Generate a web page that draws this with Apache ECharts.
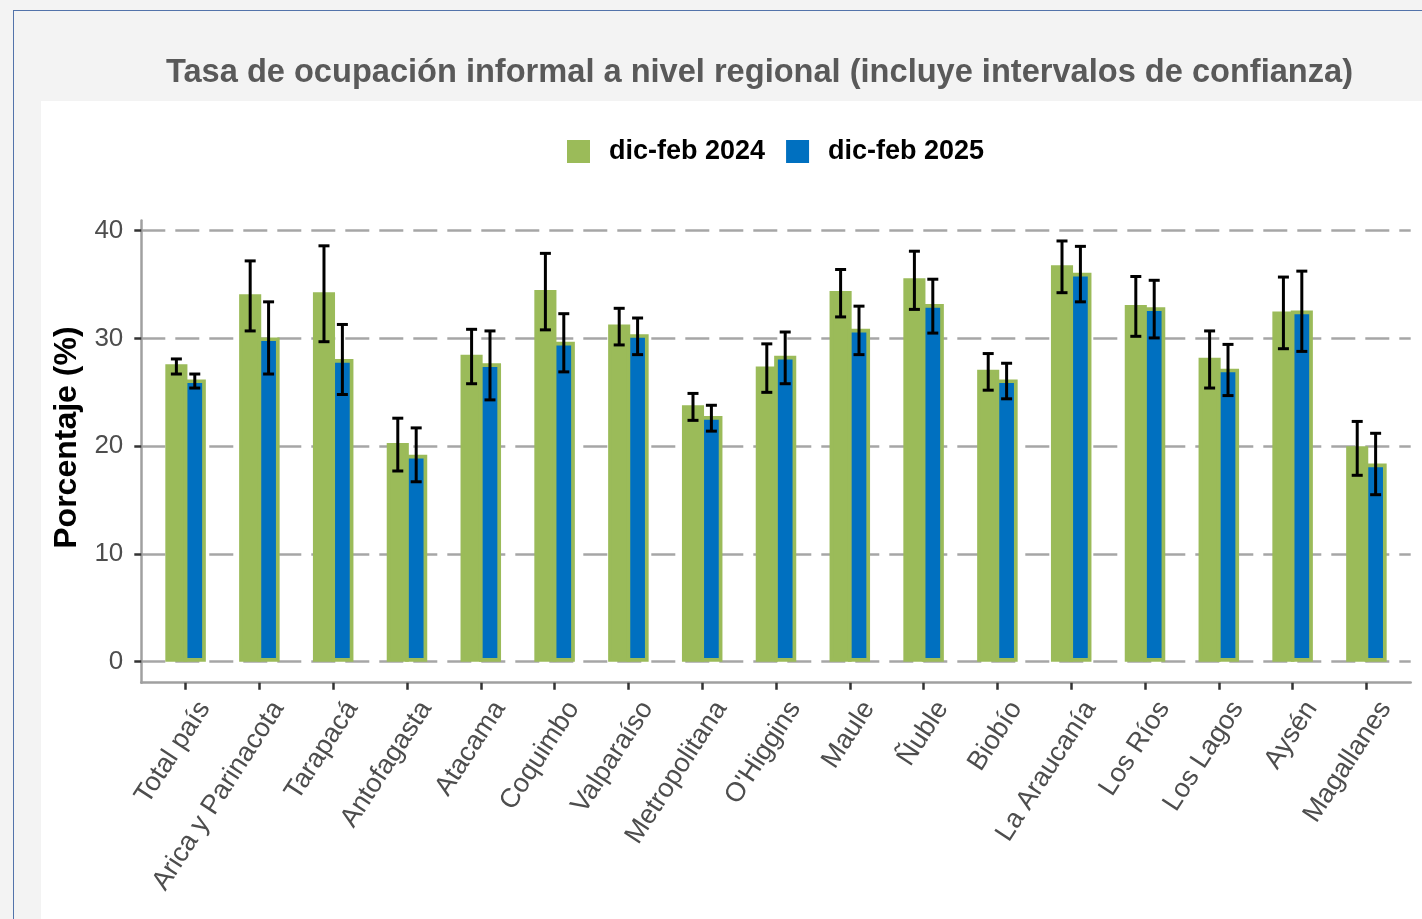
<!DOCTYPE html>
<html>
<head>
<meta charset="utf-8">
<script src="https://cdn.jsdelivr.net/npm/echarts@6/dist/echarts.min.js"></script>
<style>
  html, body { margin: 0; padding: 0; background: #f3f3f3; }
  #frame {
    position: absolute; left: 13px; top: 10px; right: 0; bottom: 0;
    border-left: 1.5px solid #5273aa; border-top: 1.5px solid #5273aa;
  }
  #panel { position: absolute; left: 41px; top: 101px; right: 0; bottom: 0; background: #ffffff; }
  #chart { position: absolute; left: 0; top: 0; width: 1422px; height: 919px; }
</style>
</head>
<body>
<div id="frame"></div>
<div id="panel"></div>
<div id="chart"></div>
<script>
// regiones y tasas (%), con limites del intervalo de confianza
const regions = ['Total país', 'Arica y Parinacota', 'Tarapacá', 'Antofagasta', 'Atacama', 'Coquimbo',
  'Valparaíso', 'Metropolitana', "O'Higgins", 'Maule', 'Ñuble', 'Biobío', 'La Araucanía',
  'Los Ríos', 'Los Lagos', 'Aysén', 'Magallanes'];
const tasa2024 = [27.6, 34.1, 34.3, 20.3, 28.5, 34.5, 31.3, 23.8, 27.4, 34.4, 35.6, 27.1, 36.8, 33.1, 28.2, 32.5, 20.0];
const low2024 = [26.7, 30.7, 29.7, 17.7, 25.8, 30.8, 29.4, 22.4, 25.0, 32.0, 32.7, 25.2, 34.25, 30.2, 25.4, 29.05, 17.3];
const high2024 = [28.1, 37.2, 38.6, 22.6, 30.85, 37.9, 32.8, 24.9, 29.5, 36.4, 38.1, 28.6, 39.05, 35.75, 30.7, 35.7, 22.3];
const tasa2025 = [26.2, 30.1, 28.1, 19.2, 27.7, 29.7, 30.4, 22.8, 28.4, 30.9, 33.2, 26.2, 36.1, 32.9, 27.2, 32.6, 18.4];
const low2025 = [25.4, 26.7, 24.8, 16.7, 24.3, 26.9, 28.5, 21.4, 25.8, 28.5, 30.5, 24.4, 33.4, 30.05, 24.7, 28.8, 15.5];
const high2025 = [26.7, 33.4, 31.3, 21.7, 30.7, 32.3, 31.9, 23.8, 30.6, 33.0, 35.5, 27.7, 38.55, 35.4, 29.45, 36.25, 21.2];
const yTicks = [0, 10, 20, 30, 40];
const seriesNames = ['dic-feb 2024', 'dic-feb 2025'];

const GREEN = '#9bbb59';
const BLUE = '#0070c0';
const BAR_W = 22.1;
const BORDER = 3.7;
const HALF = (BAR_W - BORDER) / 2;

var chart = echarts.init(document.getElementById('chart'));

function errorBars(offset) {
  return function (params, api) {
    var x = api.value(0);
    var top = api.coord([x, api.value(2)]);
    var bot = api.coord([x, api.value(1)]);
    var cx = top[0] + offset;
    var st = { stroke: '#000', lineWidth: 3 };
    return {
      type: 'group',
      children: [
        { type: 'line', shape: { x1: cx, y1: top[1], x2: cx, y2: bot[1] }, style: st },
        { type: 'line', shape: { x1: cx - 5.5, y1: top[1], x2: cx + 5.5, y2: top[1] }, style: st },
        { type: 'line', shape: { x1: cx - 5.5, y1: bot[1], x2: cx + 5.5, y2: bot[1] }, style: st }
      ]
    };
  };
}

var catIdx = regions.map(function (_, i) { return i; });

chart.setOption({
  backgroundColor: 'transparent',
  animation: false,
  title: {
    text: 'Tasa de ocupación informal a nivel regional (incluye intervalos de confianza)',
    left: 166,
    top: 57,
    padding: 0,
    textStyle: { fontFamily: 'Liberation Sans', fontWeight: 'bold', fontSize: 32.6, color: '#595959' }
  },
  legend: {
    left: 567,
    top: 138,
    padding: 0,
    itemWidth: 23,
    itemHeight: 23,
    itemGap: 21,
    icon: 'rect',
    data: [
      { name: seriesNames[0], itemStyle: { color: GREEN, borderWidth: 0 } },
      { name: seriesNames[1], itemStyle: { color: BLUE, borderWidth: 0 } }
    ],
    textStyle: { fontFamily: 'Liberation Sans', fontWeight: 'bold', fontSize: 27, color: '#000', padding: [0, 0, 0, 14] }
  },
  grid: { left: 141.3, right: 11.3, top: 220.5, bottom: 236.3 },
  xAxis: {
    type: 'value',
    min: -0.6,
    max: 16.6,
    splitLine: { show: false },
    axisLine: { onZero: false, lineStyle: { color: '#a0a0a0', width: 2.5 } },
    axisTick: { customValues: catIdx, length: 7, lineStyle: { color: '#333', width: 2.5 } },
    axisLabel: {
      customValues: catIdx,
      formatter: function (v) { return regions[Math.round(v)]; },
      rotate: 57,
      margin: 9,
      verticalAlign: 'top',
      padding: [9, 0, 0, 0],
      fontFamily: 'Liberation Sans',
      fontSize: 27,
      color: '#4d4d4d'
    }
  },
  yAxis: {
    type: 'value',
    min: -1.95,
    max: 40.95,
    name: 'Porcentaje (%)',
    nameLocation: 'middle',
    nameRotate: 90,
    nameGap: 51,
    nameTextStyle: { fontFamily: 'Liberation Sans', fontWeight: 'bold', fontSize: 32, color: '#000', padding: [0, 0, 0, 28] },
    axisLine: { show: true, onZero: false, lineStyle: { color: '#a0a0a0', width: 2.5 } },
    axisTick: { show: true, customValues: yTicks, length: 7, lineStyle: { color: '#333', width: 2.5 } },
    axisLabel: { customValues: yTicks, margin: 18, fontFamily: 'Liberation Sans', fontSize: 26, color: '#4d4d4d' },
    splitLine: { show: true, lineStyle: { color: '#a6a6a6', width: 2.5, type: [24, 10] } }
  },
  series: [
    {
      name: seriesNames[0],
      type: 'bar',
      barWidth: BAR_W,
      barGap: '-16.7%',
      itemStyle: { color: GREEN, borderColor: GREEN, borderWidth: BORDER },
      data: tasa2024.map(function (v, i) { return [i, v]; })
    },
    {
      name: seriesNames[1],
      type: 'bar',
      barWidth: BAR_W,
      barGap: '-16.7%',
      itemStyle: { color: BLUE, borderColor: GREEN, borderWidth: BORDER },
      data: tasa2025.map(function (v, i) { return [i, v]; })
    },
    {
      type: 'custom',
      name: 'ic2024',
      renderItem: errorBars(-HALF),
      encode: { x: 0, y: [1, 2] },
      z: 10,
      data: low2024.map(function (v, i) { return [i, v, high2024[i]]; })
    },
    {
      type: 'custom',
      name: 'ic2025',
      renderItem: errorBars(HALF),
      encode: { x: 0, y: [1, 2] },
      z: 10,
      data: low2025.map(function (v, i) { return [i, v, high2025[i]]; })
    }
  ]
});
</script>
</body>
</html>
